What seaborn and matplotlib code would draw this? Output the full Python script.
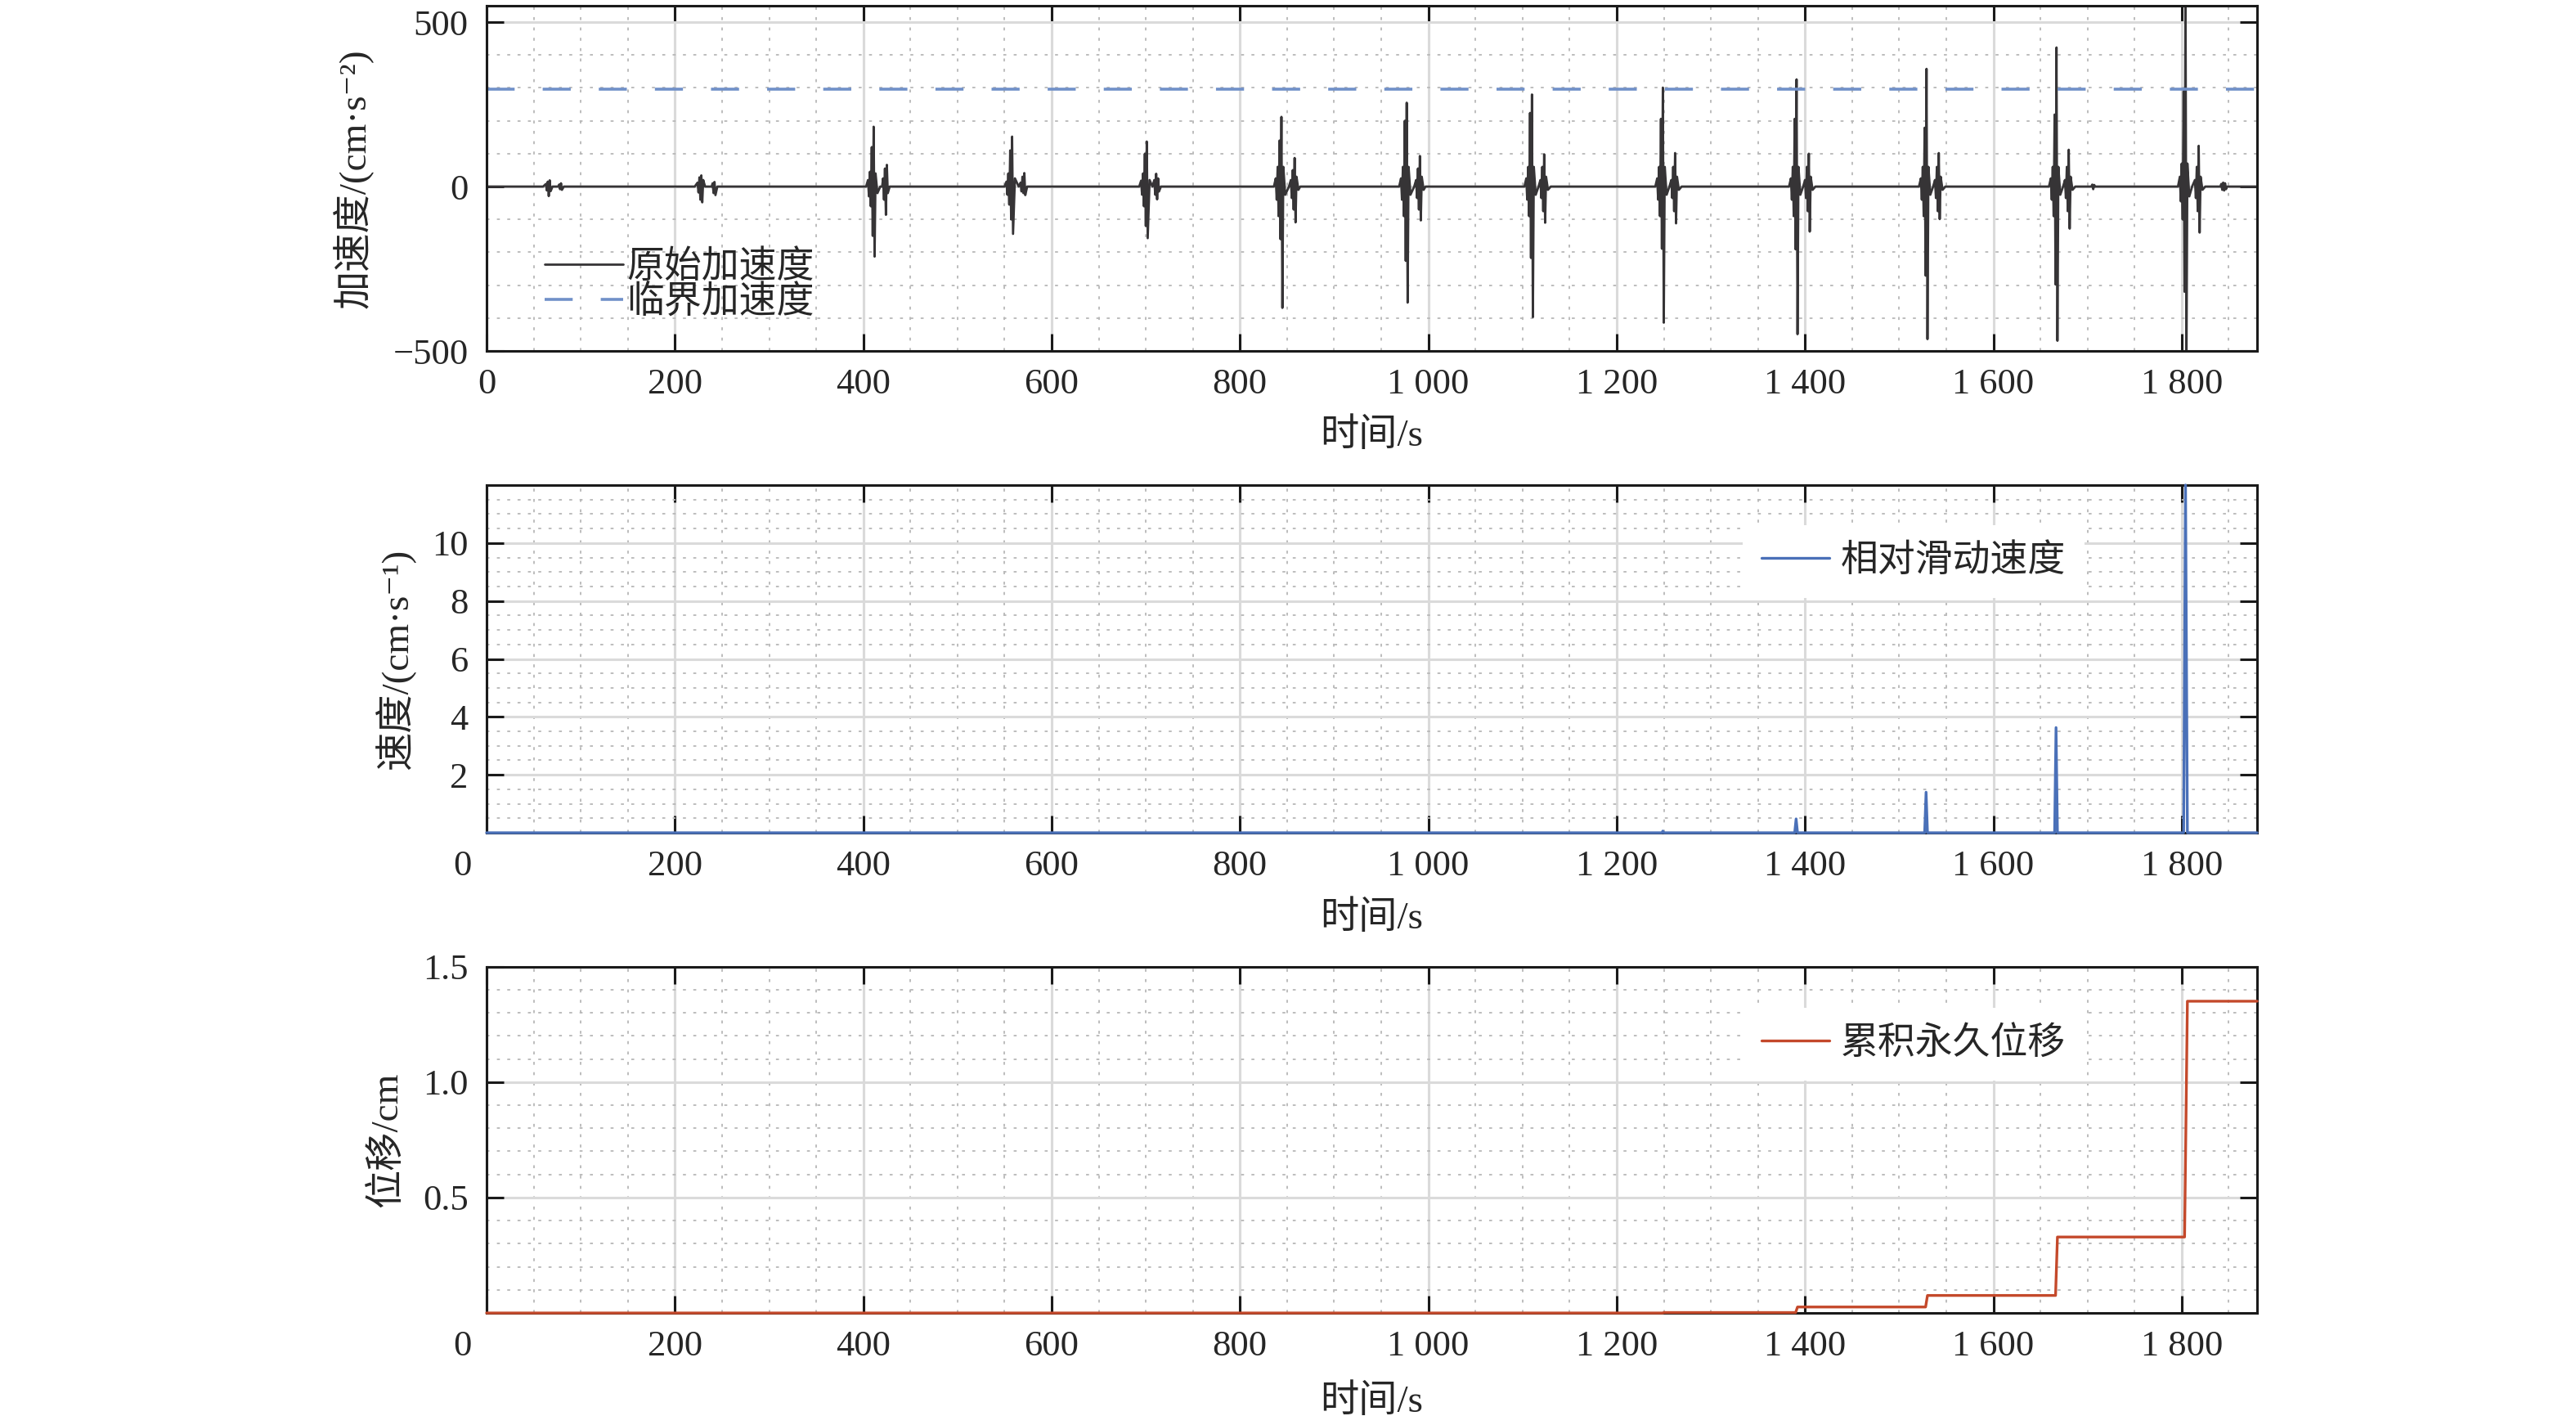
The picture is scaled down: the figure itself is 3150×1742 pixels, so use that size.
import matplotlib
matplotlib.use("Agg")
import matplotlib.pyplot as plt
from matplotlib.ticker import MultipleLocator, FixedLocator, FuncFormatter
import seaborn as sns

# ---- data ----
# original acceleration record (cm/s^2): burst vertices, one row per burst
accel_t = [0,
           60, 63, 64, 65, 66, 67, 68, 70, 76, 77, 78, 79, 80, 82,
           221, 224, 225, 226, 227, 228, 229, 230, 232, 239, 240, 241, 242, 243, 245,
           403, 405, 406, 407, 408, 409, 410, 411, 412, 413, 415, 418, 420, 421, 422, 423, 424, 425, 426, 428,
           550, 552, 553, 554, 555, 556, 557, 558, 559, 561, 565, 567, 568, 569, 570, 571, 572, 574,
           693, 695, 696, 697, 698, 699, 700, 701, 702, 704, 707, 709, 710, 711, 712, 713, 714, 716,
           836, 838, 839, 840, 841, 842, 843, 844, 845, 846, 848, 852, 854, 855, 856, 857, 858, 859, 860, 862, 864,
           969, 971, 972, 973, 974, 975, 976, 977, 978, 979, 981, 985, 987, 988, 989, 990, 991, 992, 993, 995, 997,
           1102, 1104, 1105, 1106, 1107, 1108, 1109, 1110, 1111, 1112, 1114, 1117, 1119, 1120, 1121, 1122, 1123, 1124, 1125, 1127, 1130,
           1241, 1243, 1244, 1245, 1246, 1247, 1248, 1249, 1250, 1251, 1253, 1256, 1258, 1259, 1260, 1261, 1262, 1263, 1264, 1266, 1269,
           1383, 1385, 1386, 1387, 1388, 1389, 1390, 1391, 1392, 1393, 1395, 1398, 1400, 1401, 1402, 1403, 1404, 1405, 1406, 1408, 1411,
           1521, 1523, 1524, 1525, 1526, 1527, 1528, 1529, 1530, 1531, 1533, 1536, 1538, 1539, 1540, 1541, 1542, 1543, 1544, 1546, 1549,
           1659, 1661, 1662, 1663, 1664, 1665, 1666, 1667, 1668, 1669, 1671, 1674, 1676, 1677, 1678, 1679, 1680, 1681, 1682, 1684, 1687,
           1704, 1705, 1706, 1707, 1708,
           1796, 1798, 1799, 1800, 1801, 1802, 1803, 1804, 1805, 1806, 1808, 1811, 1814, 1815, 1816, 1817, 1818, 1819, 1820, 1822, 1825,
           1841, 1842, 1843, 1844, 1845, 1846, 1847, 1848,
           1880]
accel_v = [0,
           0, 8, -12, 15, -29, 19, -14, 0, 0, 6, -8, 10, -10, 0,
           0, 12, -18, 28, -40, 34, -48, 20, 0, 0, 10, -20, 14, -26, 0,
           0, 20, -30, 45, -60, 120, -150, 182, -213, 40, -20, 0, 0, 25, -40, 55, -86, 66, -20, 0,
           0, 15, -25, 40, -55, 110, -100, 152, -144, 25, 0, 12, -15, 30, -20, 41, -26, 0,
           0, 18, -25, 40, -60, 100, -120, 137, -157, 20, 0, 20, -25, 39, -39, 25, -15, 0,
           0, 25, -40, 60, -90, 140, -160, 212, -369, 60, -25, 0, 20, -35, 50, -70, 87, -109, 30, -10, 0,
           0, 25, -40, 60, -90, 200, -226, 255, -353, 60, -25, 0, 20, -35, 55, -70, 93, -103, 30, -10, 0,
           0, 25, -40, 60, -90, 224, -217, 280, -397, 60, -25, 0, 20, -35, 60, -75, 98, -110, 30, -10, 0,
           0, 25, -40, 60, -90, 206, -189, 301, -414, 60, -25, 0, 20, -35, 60, -75, 102, -112, 30, -10, 0,
           0, 25, -40, 60, -90, 206, -191, 326, -449, 60, -25, 0, 20, -35, 60, -75, 100, -137, 30, -10, 0,
           0, 25, -40, 60, -90, 179, -271, 358, -464, 60, -25, 0, 20, -35, 60, -75, 102, -99, 30, -10, 0,
           0, 25, -40, 60, -90, 219, -298, 423, -469, 60, -25, 0, 20, -35, 60, -75, 112, -128, 30, -10, 0,
           0, 6, -8, 5, 0,
           0, 30, -45, 70, -100, 290, -320, 600, -520, 70, -30, 0, 20, -35, 60, -75, 124, -140, 30, -10, 0,
           0, 8, -10, 12, -12, 10, -8, 0,
           0]
critical_acc = 295

# relative sliding velocity (cm/s)
vel_t = [0, 1248, 1249, 1250, 1389, 1390.5, 1392, 1527, 1528.5, 1530,
         1665, 1666.5, 1668, 1802, 1804, 1806, 1880]
vel_v = [0, 0, 0.06, 0, 0, 0.48, 0, 0, 1.40, 0,
         0, 3.63, 0, 0, 12.0, 0, 0]

# cumulative permanent displacement (cm)
disp_t = [0, 1249, 1250, 1390, 1392, 1528, 1530, 1666, 1668, 1803, 1806, 1880]
disp_v = [0, 0, 0.002, 0.002, 0.026, 0.026, 0.076, 0.076, 0.329, 0.329, 1.35, 1.35]

x_ticks = [0, 200, 400, 600, 800, 1000, 1200, 1400, 1600, 1800]

C_ACC = "#363436"
C_CRIT = "#7090c8"
C_VEL = "#4a70b8"
C_DISP = "#c4492b"

TICK_FS = 32
LABEL_FS = 34
LEG_FS = 33

sns.set_theme(style="ticks")
plt.rcParams["font.family"] = ["Liberation Serif", "Noto Sans CJK SC", "DejaVu Sans"]
plt.rcParams["axes.unicode_minus"] = True

fig = plt.figure(figsize=(31.5, 17.42), dpi=100)
ax1 = fig.add_axes([0.1889, 0.7537, 0.6873, 0.2423])
ax2 = fig.add_axes([0.1889, 0.4156, 0.6873, 0.2440])
ax3 = fig.add_axes([0.1889, 0.0786, 0.6873, 0.2431])


def thousands(v, pos):
    return f"{int(v):,}".replace(",", " ")


def style_axes(ax, ymin, ymax, yticks, yminor, ylabel, ylab_x, xlab_y, zero_shift=False):
    ax.set_xlim(0, 1880)
    ax.set_ylim(ymin, ymax)
    ax.xaxis.set_major_locator(FixedLocator(x_ticks))
    ax.xaxis.set_minor_locator(MultipleLocator(50))
    ax.yaxis.set_major_locator(FixedLocator(yticks))
    ax.yaxis.set_minor_locator(MultipleLocator(yminor))
    if zero_shift:
        ax.xaxis.set_major_formatter(FuncFormatter(lambda v, p: "" if v == 0 else thousands(v, p)))
        ax.annotate("0", xy=(0, 0), xycoords="axes fraction", xytext=(-21, -15),
                    textcoords="offset points", ha="center", va="top", fontsize=TICK_FS)
    else:
        ax.xaxis.set_major_formatter(FuncFormatter(thousands))
    ax.set_axisbelow(True)
    ax.grid(which="major", color="#dadada", lw=2.2, ls="-")
    ax.grid(which="minor", color="#b8b8b8", lw=1.3, ls=(0, (2, 5)))
    ax.tick_params(which="major", direction="in", length=15, width=2.2, color="#1a1a1a",
                   top=True, right=True, labelsize=TICK_FS)
    ax.tick_params(axis="x", which="major", pad=15)
    ax.tick_params(axis="y", which="major", pad=16)
    ax.tick_params(which="minor", length=0)
    for s in ax.spines.values():
        s.set_visible(True)
        s.set_linewidth(2.2)
        s.set_color("#1a1a1a")
    ax.set_xlabel("时间/s", fontsize=LABEL_FS)
    ax.set_ylabel(ylabel, fontsize=LABEL_FS)
    ax.xaxis.set_label_coords(0.5, xlab_y)
    ax.yaxis.set_label_coords(ylab_x, 0.5)


def white_legend(ax, anchor):
    leg = ax.legend(loc="center", bbox_to_anchor=anchor, frameon=True, fontsize=LEG_FS,
                    handlelength=1.8, handletextpad=0.3, borderpad=0.5, fancybox=False)
    leg.get_frame().set_facecolor("white")
    leg.get_frame().set_edgecolor("none")
    leg.get_frame().set_alpha(1)
    return leg


# ---- acceleration ----
sns.lineplot(x=accel_t, y=accel_v, ax=ax1, color=C_ACC, lw=2.0, estimator=None, sort=False,
             label="原始加速度")
ax1.axhline(critical_acc, color=C_CRIT, lw=2.6, ls=(0, (9.5, 9.5)), label="临界加速度")
style_axes(ax1, -500, 550, [-500, 0, 500], 100, "加速度/(cm·s⁻²)", -0.064, -0.195)
ax1.legend(loc="center left", bbox_to_anchor=(0.022, 0.19), frameon=False, fontsize=LEG_FS,
           handlelength=2.1, handletextpad=0.1, labelspacing=0.0, borderpad=0)

# ---- sliding velocity ----
sns.lineplot(x=vel_t, y=vel_v, ax=ax2, color=C_VEL, lw=2.4, estimator=None, sort=False,
             label="相对滑动速度", clip_on=False, zorder=4)
style_axes(ax2, 0, 12, [2, 4, 6, 8, 10], 0.5, "速度/(cm·s⁻¹)", -0.040, -0.195, zero_shift=True)
white_legend(ax2, (0.806, 0.78))

# ---- permanent displacement ----
sns.lineplot(x=disp_t, y=disp_v, ax=ax3, color=C_DISP, lw=2.4, estimator=None, sort=False,
             label="累积永久位移", clip_on=False, zorder=4)
style_axes(ax3, 0, 1.5, [0.5, 1.0, 1.5], 0.1, "位移/cm", -0.046, -0.207, zero_shift=True)
ax3.yaxis.set_major_formatter(FuncFormatter(lambda v, p: f"{v:.1f}"))
white_legend(ax3, (0.806, 0.775))

fig.savefig("out.png", dpi=100, facecolor="white")
